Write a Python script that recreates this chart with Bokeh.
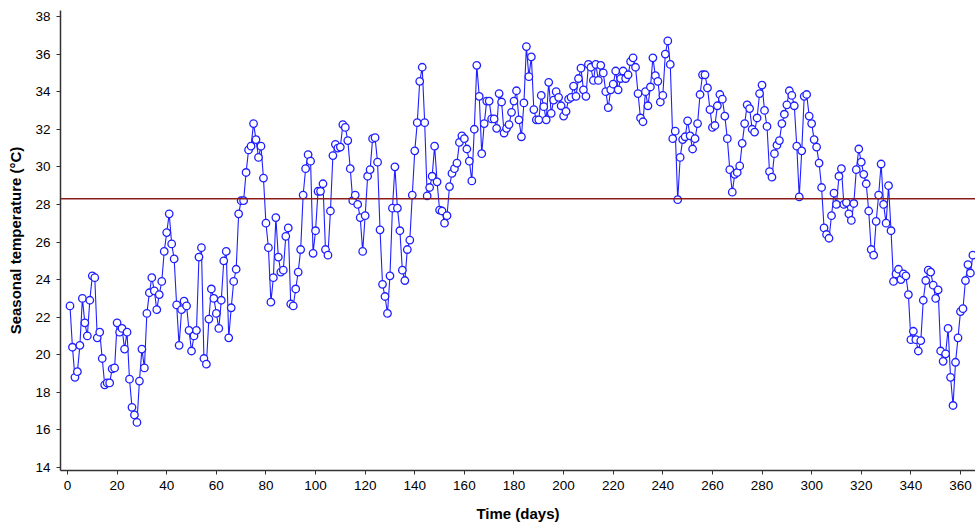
from bokeh.plotting import figure
from bokeh.models import Span, FixedTicker, Range1d
from bokeh.embed import file_html
from bokeh.resources import INLINE

# Daily seasonal temperature (deg C)
temps_jan_feb = [22.6, 20.4, 18.8, 19.1, 20.5, 23.0, 21.7, 21.0, 22.9, 24.2, 24.1, 20.9, 21.2, 19.8,
                 18.4, 18.5, 18.5, 19.25, 19.3, 21.7, 21.2, 21.4, 20.3, 21.2, 18.7, 17.2, 16.8, 16.4,
                 18.6, 20.3, 19.3, 22.2, 23.3, 24.1,
                 23.4, 22.4, 23.2, 23.9, 25.5, 26.5, 27.5, 25.9, 25.1, 22.65, 20.5, 22.4, 22.85, 22.6,
                 21.3, 20.2, 21.0, 21.3, 25.2, 25.7, 19.8, 19.5, 21.9, 23.5, 23.0, 22.2, 21.4, 22.9, 25.0]
temps_mar_apr = [25.5, 20.9, 22.5, 23.9, 24.55, 27.5, 28.2, 28.2, 29.7, 30.9, 31.1, 32.3, 31.45, 30.5,
                 31.1, 29.4, 27.0, 25.7, 22.8, 24.1, 27.3, 25.2, 24.4, 24.5, 26.3, 26.75, 22.7, 22.6,
                 23.5, 24.4,
                 25.6, 28.5, 29.9, 30.65, 30.3, 25.4, 26.6, 28.7, 28.7, 29.1, 25.6, 25.3, 27.65, 30.6,
                 31.2, 31.0, 31.05, 32.25, 32.1, 31.4, 29.9, 28.2, 28.5, 28.0, 27.3, 25.5, 27.4, 29.5,
                 29.85, 31.5]
temps_may_jun = [31.55, 30.25, 26.65, 23.75, 23.1, 22.2, 24.2, 27.8, 30.0, 27.8, 26.6, 24.5, 23.95, 25.6,
                 26.1, 28.5, 30.85, 32.35, 34.55, 35.3, 32.35, 28.45, 28.9, 29.5, 31.1, 29.2, 27.7, 27.65,
                 27.0, 27.4, 28.95,
                 29.65, 29.9, 30.2, 31.3, 31.65, 31.5, 30.95, 30.3, 29.25, 32.0, 35.4, 33.75, 30.7, 32.3,
                 33.5, 33.5, 32.55, 32.55, 32.05, 33.9, 33.45, 31.8, 32.05, 32.25, 32.9, 33.5, 34.05,
                 32.5, 31.6, 33.4]
temps_jul_aug = [36.4, 34.8, 35.85, 33.05, 32.5, 32.5, 33.8, 33.2, 32.5, 34.5, 32.85, 33.55, 34.0, 33.7,
                 33.25, 32.7, 32.95, 33.6, 33.7, 34.3, 33.75, 34.7, 35.25, 34.1, 33.75, 35.45, 35.3, 34.6,
                 35.45,
                 34.6, 35.4, 35.0, 34.0, 33.15, 34.1, 34.4, 35.1, 34.1, 34.7, 35.1, 34.7, 34.9, 35.6,
                 35.8, 35.3, 33.9, 32.6, 32.4, 34.0, 33.25, 34.25, 35.8, 34.85, 34.55, 33.45, 33.8, 36.0,
                 36.7, 35.45, 31.5]
temps_sep_oct = [31.9, 28.25, 30.5, 31.45, 31.6, 32.45, 31.65, 30.95, 31.5, 32.3, 33.85, 34.9, 34.9, 34.2,
                 33.05, 32.1, 32.2, 33.25, 33.85, 33.6, 32.7, 31.5, 29.85, 28.65, 29.6, 29.7, 30.05, 31.25,
                 32.3, 33.3,
                 33.1, 32.0, 31.85, 32.6, 33.9, 34.35, 33.0, 32.15, 29.75, 29.45, 30.7, 31.15, 31.4, 32.3,
                 32.8, 33.3, 34.05, 33.8, 33.25, 31.1, 28.4, 30.85, 33.75, 33.85, 32.7, 32.3, 31.45, 31.05,
                 30.2, 28.9]
temps_nov_dec = [26.75, 26.4, 26.2, 27.4, 28.6, 28.0, 29.5, 29.9, 28.0, 28.1, 27.5, 27.15, 28.05, 29.85,
                 30.95, 30.25, 29.6, 29.1, 27.65, 25.6, 25.3, 27.1, 28.5, 30.15, 28.0, 27.0, 29.0, 26.6,
                 23.9, 24.3, 24.55, 24.0, 24.3, 24.2, 23.2, 20.8, 21.25, 20.8, 20.2, 20.75, 22.9, 23.95,
                 24.5, 24.4, 23.7, 23.0, 23.45, 20.2, 19.65, 20.05, 21.4, 18.8, 17.3, 19.6, 20.9, 22.3,
                 22.45, 23.95, 24.8, 24.35, 25.3]

temps = temps_jan_feb + temps_mar_apr + temps_may_jun + temps_jul_aug + temps_sep_oct + temps_nov_dec
days = list(range(1, len(temps) + 1))

mean_temp = 28.3
x_ticks = list(range(0, 361, 20))
y_ticks = list(range(14, 39, 2))

p = figure(width=975, height=532, output_backend="svg", toolbar_location=None,
           x_range=Range1d(-2.82, 366.05), y_range=Range1d(13.84, 38.32),
           min_border_left=60, min_border_right=0, min_border_top=10, min_border_bottom=62)

p.xgrid.grid_line_color = None
p.ygrid.grid_line_color = None
p.outline_line_color = None

p.xaxis.ticker = FixedTicker(ticks=x_ticks)
p.yaxis.ticker = FixedTicker(ticks=y_ticks)

for ax in (p.xaxis[0], p.yaxis[0]):
    ax.axis_line_color = "#333333"
    ax.axis_line_width = 1.5
    ax.major_tick_line_color = "#333333"
    ax.major_tick_in = 0
    ax.major_tick_out = 4
    ax.minor_tick_line_color = None
    ax.major_label_text_font = "Liberation Sans"
    ax.major_label_text_font_size = "13.5px"
    ax.major_label_text_color = "#000000"
    ax.axis_label_text_font = "Liberation Sans"
    ax.axis_label_text_font_size = "15px"
    ax.axis_label_text_font_style = "bold"
    ax.axis_label_text_color = "#000000"

p.xaxis.axis_label = "Time (days)"
p.yaxis.axis_label = "Seasonal temperature (°C)"
p.xaxis.axis_label_standoff = 12
p.yaxis.axis_label_standoff = 8
p.xaxis.major_label_standoff = 6
p.yaxis.major_label_standoff = 6

p.add_layout(Span(location=mean_temp, dimension="width", line_color="#8b1c1c", line_width=1.6))

p.line(days, temps, line_color="#1f1fff", line_width=1.1)
p.scatter(days, temps, marker="circle", size=7.5, fill_color="white",
          line_color="#1f1fff", line_width=1.3)

open("out.html", "w").write(file_html(p, INLINE))
